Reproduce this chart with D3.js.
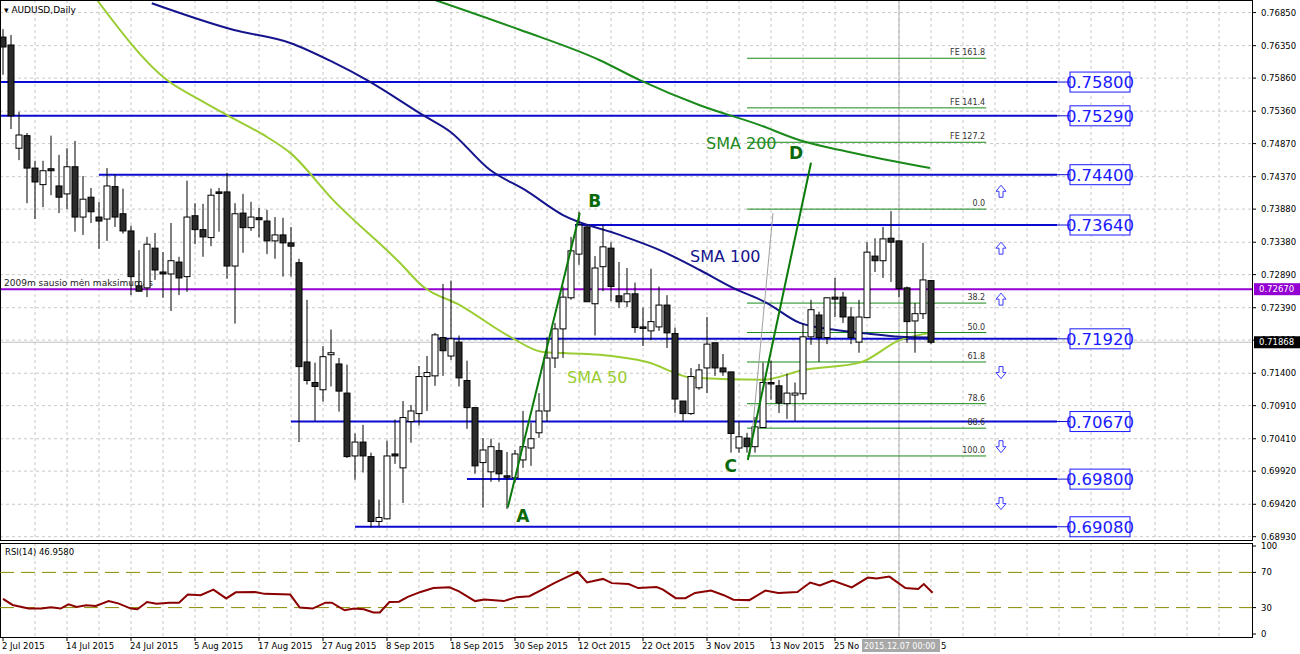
<!DOCTYPE html>
<html><head><meta charset="utf-8">
<script src="https://cdn.jsdelivr.net/npm/d3@7"></script>
<style>body{margin:0;background:#fff}text{font-family:"DejaVu Sans",sans-serif}</style>
</head><body>
<svg id="chart" width="1300" height="654"></svg>
<script>
// daily OHLC [open, high, low, close], bar 0 = 2 Jul 2015
const ohlc = [
[0.7648,0.7660,0.7591,0.7633],[0.7636,0.7651,0.7509,0.7529],[0.7480,0.7535,0.7462,0.7500],[0.7499,0.7503,0.7397,0.7450],
[0.7450,0.7461,0.7373,0.7429],[0.7425,0.7461,0.7391,0.7446],[0.7449,0.7499,0.7409,0.7446],[0.7423,0.7470,0.7382,0.7406],
[0.7411,0.7480,0.7388,0.7452],[0.7452,0.7491,0.7354,0.7376],[0.7376,0.7438,0.7349,0.7403],[0.7406,0.7420,0.7367,0.7384],
[0.7376,0.7399,0.7328,0.7370],[0.7373,0.7450,0.7340,0.7423],[0.7422,0.7440,0.7361,0.7376],[0.7381,0.7419,0.7351,0.7355],
[0.7355,0.7363,0.7258,0.7286],[0.7272,0.7326,0.7263,0.7264],[0.7269,0.7346,0.7255,0.7335],[0.7329,0.7352,0.7281,0.7296],
[0.7293,0.7323,0.7254,0.7290],[0.7290,0.7367,0.7234,0.7310],[0.7308,0.7316,0.7258,0.7284],[0.7286,0.7431,0.7263,0.7376],
[0.7378,0.7397,0.7335,0.7357],[0.7357,0.7396,0.7316,0.7346],[0.7345,0.7419,0.7332,0.7409],[0.7414,0.7420,0.7354,0.7412],
[0.7414,0.7443,0.7283,0.7302],[0.7302,0.7397,0.7215,0.7381],[0.7382,0.7411,0.7322,0.7360],[0.7360,0.7399,0.7355,0.7376],
[0.7375,0.7390,0.7345,0.7372],[0.7370,0.7387,0.7320,0.7340],[0.7340,0.7376,0.7313,0.7349],[0.7349,0.7375,0.7286,0.7337],
[0.7337,0.7361,0.7286,0.7332],[0.7307,0.7313,0.7036,0.7150],[0.7157,0.7251,0.7123,0.7129],[0.7126,0.7156,0.7068,0.7120],
[0.7115,0.7181,0.7097,0.7165],[0.7168,0.7206,0.7120,0.7171],[0.7154,0.7163,0.7082,0.7113],[0.7110,0.7153,0.7012,0.7014],
[0.7015,0.7049,0.6979,0.7036],[0.7036,0.7062,0.6990,0.7015],[0.7014,0.7020,0.6907,0.6916],[0.6916,0.6949,0.6908,0.6922],
[0.6920,0.7038,0.6919,0.7015],[0.7018,0.7070,0.7003,0.7015],[0.6997,0.7098,0.6944,0.7073],[0.7067,0.7092,0.7035,0.7083],
[0.7079,0.7151,0.7061,0.7135],[0.7135,0.7166,0.7083,0.7141],[0.7136,0.7201,0.7121,0.7198],[0.7194,0.7275,0.7136,0.7174],
[0.7166,0.7280,0.7160,0.7192],[0.7187,0.7197,0.7120,0.7133],[0.7129,0.7159,0.7056,0.7088],[0.7088,0.7088,0.6988,0.7000],
[0.7005,0.7042,0.6937,0.7024],[0.6991,0.7041,0.6976,0.7029],[0.7023,0.7035,0.6976,0.6988],[0.6985,0.7021,0.6935,0.6984],
[0.6982,0.7024,0.6975,0.7018],[0.7009,0.7083,0.6997,0.7029],[0.7027,0.7065,0.7000,0.7041],[0.7050,0.7110,0.7042,0.7083],
[0.7083,0.7194,0.7067,0.7163],[0.7163,0.7216,0.7148,0.7207],[0.7207,0.7271,0.7163,0.7255],[0.7254,0.7346,0.7251,0.7325],
[0.7320,0.7384,0.7304,0.7364],[0.7361,0.7364,0.7248,0.7248],[0.7245,0.7317,0.7197,0.7299],[0.7301,0.7364,0.7264,0.7331],
[0.7329,0.7338,0.7249,0.7271],[0.7257,0.7308,0.7239,0.7248],[0.7248,0.7299,0.7240,0.7260],[0.7260,0.7277,0.7201,0.7209],
[0.7210,0.7239,0.7181,0.7209],[0.7204,0.7298,0.7190,0.7218],[0.7210,0.7271,0.7204,0.7243],[0.7243,0.7258,0.7178,0.7201],
[0.7200,0.7209,0.7080,0.7101],[0.7098,0.7098,0.7067,0.7079],[0.7079,0.7148,0.7077,0.7135],[0.7118,0.7154,0.7115,0.7145],
[0.7148,0.7225,0.7110,0.7184],[0.7186,0.7186,0.7136,0.7148],[0.7148,0.7169,0.7136,0.7142],[0.7142,0.7142,0.7020,0.7049],
[0.7027,0.7067,0.7020,0.7044],[0.7042,0.7050,0.7020,0.7029],[0.7029,0.7074,0.7020,0.7059],[0.7058,0.7156,0.7058,0.7126],
[0.7126,0.7159,0.7100,0.7124],[0.7121,0.7130,0.7080,0.7095],[0.7094,0.7139,0.7071,0.7110],[0.7107,0.7126,0.7068,0.7110],
[0.7109,0.7215,0.7100,0.7195],[0.7195,0.7251,0.7183,0.7236],[0.7228,0.7233,0.7157,0.7194],[0.7194,0.7255,0.7184,0.7254],
[0.7255,0.7284,0.7225,0.7252],[0.7255,0.7263,0.7216,0.7225],[0.7225,0.7240,0.7184,0.7194],[0.7187,0.7251,0.7171,0.7225],
[0.7224,0.7338,0.7224,0.7323],[0.7317,0.7344,0.7293,0.7310],[0.7310,0.7361,0.7284,0.7343],[0.7344,0.7385,0.7278,0.7338],
[0.7340,0.7340,0.7255,0.7268],[0.7269,0.7271,0.7186,0.7218],[0.7219,0.7246,0.7171,0.7230],[0.7230,0.7337,0.7222,0.7281],
[0.7280,0.7280,0.7184,0.71868]
];
// moving averages: [bar, price]
const sma50 = [[11.75,0.7704],[20.5,0.7583],[24.6,0.7553],[28,0.7530],[33,0.7497],[35.9,0.7473],[41.25,0.7402],[49.6,0.7307],[52.5,0.7271],[57.1,0.7243],[63.4,0.7195],[67.5,0.7172],[74.6,0.7168],[80.5,0.7157],[86.25,0.7133],[95,0.7130],[100,0.7145],[107.1,0.7156],[112.1,0.7190],[115.9,0.7201]];
const sma100 = [[18.6,0.7699],[28.75,0.7659],[35.9,0.7639],[41.25,0.7610],[45.5,0.7583],[52.5,0.7530],[55.9,0.7505],[60.9,0.7447],[65.25,0.7417],[70,0.7379],[77.1,0.7349],[82.1,0.7326],[87.1,0.7296],[91.25,0.7269],[95.5,0.7246],[99.6,0.7216],[103.75,0.7206],[108,0.7200],[112.1,0.7195],[115.9,0.7194]];
const sma200 = [[54,0.7704],[64.6,0.7659],[74.6,0.7613],[79.6,0.7583],[87.1,0.7545],[94.6,0.7515],[99.6,0.7492],[105.9,0.7474],[115.9,0.7450]];
// RSI(14): [bar, value]
const rsi = [[0,40.0],[1.2,33.0],[3.2,28.9],[4.8,28.9],[6,30.4],[7.2,28.9],[8.2,33.7],[9.2,30.7],[10.4,32.6],[11.6,31.9],[13.2,37.4],[14.4,34.8],[16,28.9],[16.8,28.1],[18,36.3],[19.2,34.4],[20.8,35.6],[22,35.6],[23.1,44.8],[24.7,44.1],[26.3,50.4],[27.9,40.4],[29.1,47.4],[31.5,47.8],[32.7,45.6],[35.9,44.8],[37.1,30],[38.7,28.9],[40.3,35.6],[41.1,35.6],[42.7,27.0],[43.9,28.9],[45.1,28.1],[46.3,24.4],[47.1,24.4],[48.3,36.3],[49.5,36.7],[50.6,42.2],[52.2,47.8],[53.8,52.2],[55.8,53.0],[57,48.5],[59,37.4],[60.2,39.3],[62.6,37.4],[64.2,41.9],[65.8,43.0],[67.4,50.4],[68.9,57.8],[71,67.0],[71.8,70.7],[73,58.5],[75,62.6],[76.1,57.8],[78.2,56.7],[79.4,52.2],[81.7,53.3],[82.5,50.4],[84.1,40.7],[85.3,40.7],[86.5,46.7],[88.5,49.3],[90.1,44.1],[91.3,38.9],[93.3,38.5],[95.3,49.3],[96.9,46.7],[99.3,47.8],[100.9,58.5],[102.1,55.2],[103.7,60.7],[106.1,52.9],[108.1,64.1],[109.2,63.0],[110.8,65.2],[112.8,52.2],[114.4,51.1],[115.1,56.7],[116.2,46.96]];
// support / resistance: [price, first bar]
const levels = [[0.7580,-1],[0.7529,-1],[0.7440,12],[0.7364,71.5],[0.7192,53.75],[0.7067,36],[0.6980,58],[0.6908,44]];
const fibLevels = [["FE 161.8",0.7616],["FE 141.4",0.7541],["FE 127.2",0.7489],["0.0",0.7388],["38.2",0.7246],["50.0",0.72015],["61.8",0.7157],["78.6",0.7094],["88.6",0.7057],["100.0",0.7015]];
const abcd = [["A",63.1,0.6937],["B",72.1,0.7382],["C",93.1,0.7009],["D",101,0.7458]];
const arrowsUp = [0.7415,0.7329,0.7252];
const arrowsDown = [0.7141,0.7029,0.6943];
const priceTicks = [0.76850,0.76350,0.75860,0.75360,0.74870,0.74370,0.73880,0.73380,0.72890,0.72390,0.71900,0.71400,0.70910,0.70410,0.69920,0.69420,0.68930];
const dateLabels = ["2 Jul 2015","14 Jul 2015","24 Jul 2015","5 Aug 2015","17 Aug 2015","27 Aug 2015","8 Sep 2015","18 Sep 2015","30 Sep 2015","12 Oct 2015","22 Oct 2015","3 Nov 2015","13 Nov 2015","25 No"];
const holiday = 0.7267, lastPrice = 0.71868, rsiNow = 46.958;

const svg = d3.select("#chart");
const W = 1252;
const x = d3.scaleLinear().domain([0, 116]).range([3, 931]);
const y = d3.scaleLinear().domain([0.6888, 0.7704]).range([540, 0]);
const ry = d3.scaleLinear().domain([0, 100]).range([634, 546]);

const defs = svg.append("defs");
defs.append("clipPath").attr("id", "main").append("rect").attr("width", W).attr("height", 540);
defs.append("clipPath").attr("id", "sub").append("rect").attr("y", 543).attr("width", W).attr("height", 94);

// grid
const gridX = d3.range(4, 156, 4);
const grid = svg.append("g").attr("stroke", "#c8c8c8").attr("stroke-dasharray", "3,3");
gridX.forEach(i => {
    grid.append("line").attr("x1", x(i)).attr("x2", x(i)).attr("y1", 0).attr("y2", 540);
    grid.append("line").attr("x1", x(i)).attr("x2", x(i)).attr("y1", 543).attr("y2", 637);
});
priceTicks.forEach(p => grid.append("line").attr("x1", 0).attr("x2", W).attr("y1", y(p)).attr("y2", y(p)));

const main = svg.append("g").attr("clip-path", "url(#main)");

// crosshair vertical + last price line
main.append("line").attr("x1", x(112)).attr("x2", x(112)).attr("y1", 0).attr("y2", 540).attr("stroke", "#b0b0b0");
svg.append("line").attr("x1", x(112)).attr("x2", x(112)).attr("y1", 543).attr("y2", 637).attr("stroke", "#b0b0b0");
main.append("line").attr("x1", 0).attr("x2", W).attr("y1", y(lastPrice)).attr("y2", y(lastPrice)).attr("stroke", "#c0c0c0");

// levels
levels.forEach(([p, s]) => {
    main.append("line").attr("x1", x(s)).attr("x2", x(131.75)).attr("y1", y(p)).attr("y2", y(p))
        .attr("stroke", "#0a0ad0").attr("stroke-width", 2);
    main.append("line").attr("x1", x(131.75)).attr("x2", 1070).attr("y1", y(p)).attr("y2", y(p)).attr("stroke", "#0a0ad0");
    main.append("rect").attr("x", 1070).attr("y", y(p) - 10).attr("width", 60).attr("height", 20)
        .attr("fill", "#fff").attr("stroke", "#1a1aff");
    main.append("text").attr("x", 1100).attr("y", y(p) + 6).attr("text-anchor", "middle")
        .attr("font-family", "Liberation Sans").attr("font-size", 16.5).attr("fill", "#1a1aff").text(p.toFixed(5));
});
main.append("line").attr("x1", 0).attr("x2", W).attr("y1", y(holiday)).attr("y2", y(holiday))
    .attr("stroke", "#9400d3").attr("stroke-width", 2);
main.append("text").attr("x", 4).attr("y", y(holiday) - 3).attr("font-size", 9).attr("fill", "#222").text("2009m sausio mėn maksimumas");

// fibonacci
fibLevels.forEach(([t, p]) => {
    main.append("line").attr("x1", x(93)).attr("x2", x(122.9)).attr("y1", y(p)).attr("y2", y(p)).attr("stroke", "#188a18");
    main.append("text").attr("x", x(122.9) - 1).attr("y", y(p) - 3).attr("text-anchor", "end")
        .attr("font-size", 8).attr("fill", "#333").text(t);
});

// moving averages
const ln = d3.line().x(d => x(d[0])).y(d => y(d[1])).curve(d3.curveMonotoneX);
main.append("path").attr("d", ln(sma50)).attr("fill", "none").attr("stroke", "#9acd32").attr("stroke-width", 2);
main.append("path").attr("d", ln(sma100)).attr("fill", "none").attr("stroke", "#14148c").attr("stroke-width", 2);
main.append("path").attr("d", ln(sma200)).attr("fill", "none").attr("stroke", "#1a8a1a").attr("stroke-width", 2);

// candles
const c = main.selectAll(".c").data(ohlc).enter().append("g");
c.append("line").attr("x1", (d, i) => x(i)).attr("x2", (d, i) => x(i))
    .attr("y1", d => y(d[1])).attr("y2", d => y(d[2])).attr("stroke", "#000");
c.append("rect").attr("x", (d, i) => x(i) - 3)
    .attr("y", d => y(Math.max(d[0], d[3])))
    .attr("width", 6).attr("height", d => Math.max(1.5, Math.abs(y(d[0]) - y(d[3]))))
    .attr("fill", d => d[3] >= d[0] ? "#fff" : "#2a2a2a").attr("stroke", "#000");

// ABCD pattern
const pt = k => abcd[k];
main.append("line").attr("x1", x(93.4)).attr("y1", y(0.7017)).attr("x2", x(96.25)).attr("y2", y(0.7382)).attr("stroke", "#a0a0a0");
[[0, 1], [2, 3]].forEach(([a, b]) => {
    main.append("line").attr("x1", x(pt(a)[1])).attr("y1", y(pt(a)[2])).attr("x2", x(pt(b)[1])).attr("y2", y(pt(b)[2]))
        .attr("stroke", "#0a7a0a").attr("stroke-width", 2);
});
const lblOff = {A: [15, 14], B: [15, -6], C: [-17, 12], D: [-15, -4]};
abcd.forEach(([t, i, p]) => {
    main.append("text").attr("x", x(i) + lblOff[t][0]).attr("y", y(p) + lblOff[t][1]).attr("text-anchor", "middle")
        .attr("font-family", "Liberation Sans").attr("font-weight", "bold").attr("font-size", 17).attr("fill", "#0a6a0a").text(t);
});

// MA captions
main.append("text").attr("x", 706).attr("y", 149).attr("font-family", "Liberation Sans").attr("font-size", 16).attr("fill", "#1f8a1f").text("SMA 200");
main.append("text").attr("x", 690).attr("y", 262).attr("font-family", "Liberation Sans").attr("font-size", 16).attr("fill", "#14148c").text("SMA 100");
main.append("text").attr("x", 567).attr("y", 383).attr("font-family", "Liberation Sans").attr("font-size", 16).attr("fill", "#9acd32").text("SMA 50");

// arrows
const arrow = (cx, cy, up) => {
    const s = up ? -1 : 1;
    const pts = [[-2, -6 * s], [2, -6 * s], [2, 0], [5, 0], [0, 6 * s], [-5, 0], [-2, 0]];
    main.append("polygon").attr("points", pts.map(p => [cx + p[0], cy + p[1]].join(",")).join(" "))
        .attr("fill", "#fff").attr("stroke", "#3a3aff");
};
arrowsUp.forEach(p => arrow(1001, y(p), true));
arrowsDown.forEach(p => arrow(1001, y(p), false));

// frames
svg.append("rect").attr("x", 0.5).attr("y", 0.5).attr("width", W).attr("height", 540).attr("fill", "none").attr("stroke", "#000");
svg.append("rect").attr("x", 0.5).attr("y", 543.5).attr("width", W).attr("height", 94).attr("fill", "none").attr("stroke", "#000");
svg.append("text").attr("x", 4).attr("y", 13).attr("font-size", 9).text("▾ AUDUSD,Daily");

// price axis
priceTicks.forEach(p => {
    if (Math.abs(p - lastPrice) < 0.0003) return;
    svg.append("line").attr("x1", W).attr("x2", W + 4).attr("y1", y(p)).attr("y2", y(p)).attr("stroke", "#000");
    svg.append("text").attr("x", 1261).attr("y", y(p) + 3).attr("font-size", 8.5).text(p.toFixed(5));
});
[[holiday, "#9400d3"], [lastPrice, "#000"]].forEach(([p, col]) => {
    svg.append("rect").attr("x", 1254).attr("y", y(p) - 6).attr("width", 46).attr("height", 12).attr("fill", col);
    svg.append("text").attr("x", 1259).attr("y", y(p) + 3).attr("font-size", 8.5).attr("fill", "#fff").text(p.toFixed(5));
});

// RSI panel
const sub = svg.append("g").attr("clip-path", "url(#sub)");
[30, 70].forEach(v => sub.append("line").attr("x1", 0).attr("x2", W).attr("y1", ry(v)).attr("y2", ry(v))
    .attr("stroke", "#8a8a00").attr("stroke-dasharray", "14,7"));
sub.append("path").attr("d", d3.line().x(d => x(d[0])).y(d => ry(d[1]))(rsi))
    .attr("fill", "none").attr("stroke", "#8b0000").attr("stroke-width", 2);
svg.append("text").attr("x", 5).attr("y", 555).attr("font-size", 8.5).text("RSI(14) " + rsiNow.toFixed(4));
[100, 70, 30, 0].forEach(v => {
    svg.append("line").attr("x1", W).attr("x2", W + 4).attr("y1", ry(v)).attr("y2", ry(v)).attr("stroke", "#000");
    svg.append("text").attr("x", 1261).attr("y", ry(v) + 3).attr("font-size", 8.5).text(v);
});

// date axis
dateLabels.forEach((t, k) => {
    svg.append("line").attr("x1", x(k * 8)).attr("x2", x(k * 8)).attr("y1", 637).attr("y2", 641).attr("stroke", "#000");
    svg.append("text").attr("x", x(k * 8) - 1).attr("y", 649).attr("font-size", 8.5).text(t);
});
svg.append("rect").attr("x", 862).attr("y", 639).attr("width", 78).attr("height", 13).attr("fill", "#a8a8a8");
svg.append("text").attr("x", 864).attr("y", 649).attr("font-size", 8).attr("fill", "#fff").text("2015.12.07 00:00");
svg.append("text").attr("x", 941).attr("y", 649).attr("font-size", 8.5).text("5");
</script>
</body></html>
